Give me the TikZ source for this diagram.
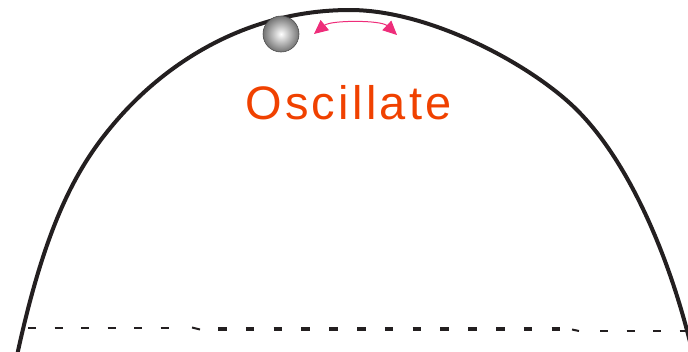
\documentclass[tikz,border=0pt]{standalone}
\usepackage{fontspec}
\setmainfont{Liberation Sans}
\usetikzlibrary{arrows.meta}
\definecolor{curvecol}{HTML}{231F20}
\definecolor{textcol}{HTML}{F04100}
\definecolor{arrowcol}{HTML}{EE2D7A}
\begin{document}
\begin{tikzpicture}[x=1pt,y=-1pt,
  hill/.style={draw=curvecol,line width=4pt},
  thindash/.style={draw=curvecol,line width=2.6pt,dash pattern=on 8pt off 18.5pt},
  thickdash/.style={draw=curvecol,line width=4.2pt,dash pattern=on 8.5pt off 19.3pt},
  swing/.style={draw=arrowcol,line width=1pt,{Triangle[length=14pt,width=13pt]}-{Triangle[length=14pt,width=13pt]}}]
\useasboundingbox (0,0) rectangle (688,351);
\begin{scope}
\clip (0,0) rectangle (688,351);
\draw[hill] (16,362) -- (18,351)
  .. controls (46.6,221) and (77.6,165.3) .. (117,120)
  .. controls (169.5,59.6) and (250,10) .. (350,10)
  .. controls (430,10) and (532,65) .. (577,110)
  .. controls (627,160) and (667,250) .. (690,342) -- (692,352);
\end{scope}
% dashed base line
\draw[thindash] (28,328) -- (178,328);
\draw[draw=curvecol,line width=2pt] (192,327.5) -- (200,329.5);
\draw[thickdash] (218,329) -- (560,329);
\draw[draw=curvecol,line width=2pt] (572,329.5) -- (579,331);
\draw[thindash] (600,331) -- (690,331);
% ball
\shade[inner color=white,outer color=black!55,draw=black!70,line width=0.6pt] (281,34) circle[radius=18];
% oscillation arrow
\coordinate (L) at (314,34);
\coordinate (R) at (397,35);
\draw[swing] (L) .. controls (331,20) and (381,20) .. (R);
% label
\node[anchor=base west,inner sep=0pt,text=textcol,font=\fontsize{47}{50}\selectfont\addfontfeatures{LetterSpace=7}] (lbl) at (245,119) {Oscillate};
\end{tikzpicture}
\end{document}
